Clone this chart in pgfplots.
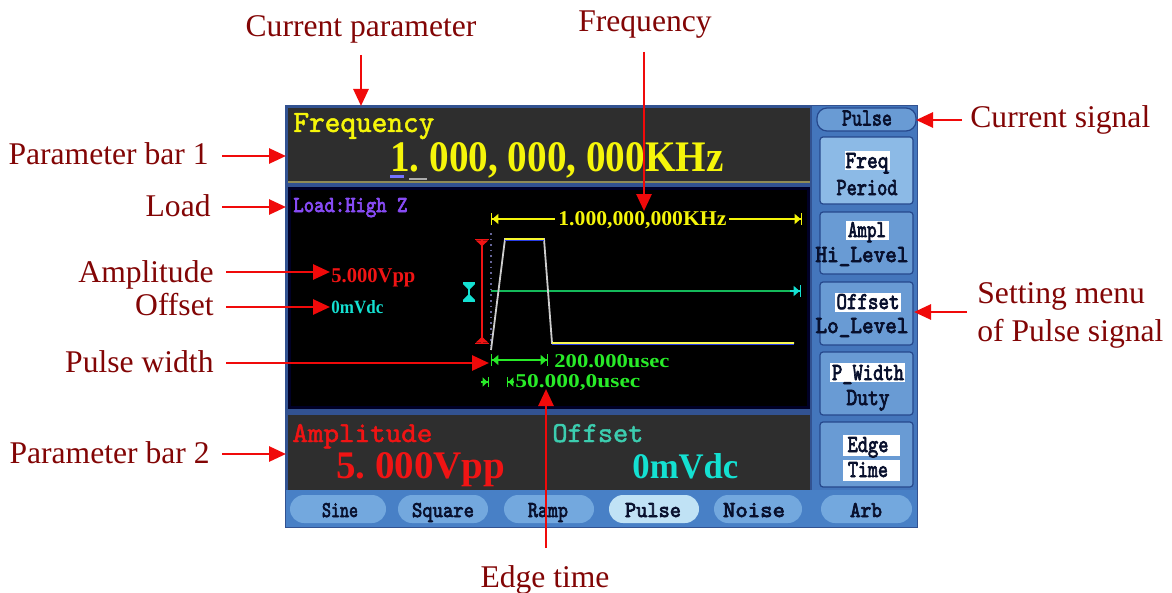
\documentclass[border=0pt]{standalone}
\usepackage{fontspec}
\setmainfont{Liberation Serif}
\newfontfamily\scrmono{lmmono10-regular.otf}[FakeBold=1.6]
\newfontfamily\btnmono{lmmono10-regular.otf}[FakeBold=3.2]
\usepackage{pgfplots}
\pgfplotsset{compat=1.18}
\usetikzlibrary{arrows.meta}

% one pixel of the reference = 0.5bp
\newlength\pxu \setlength\pxu{0.5bp}
\newcommand\fb[3]{\resizebox{#1\pxu}{#2\pxu}{#3}}

\definecolor{annot}{RGB}{130,5,5}
\definecolor{arr}{RGB}{240,10,10}
\definecolor{frame}{RGB}{50,82,145}
\definecolor{panel}{RGB}{68,118,188}
\definecolor{strip}{RGB}{72,128,198}
\definecolor{btn}{RGB}{105,155,212}
\definecolor{btnhi}{RGB}{140,186,230}
\definecolor{btnedge}{RGB}{38,72,140}
\definecolor{tab}{RGB}{115,168,222}
\definecolor{tabhi}{RGB}{192,226,245}
\definecolor{bardark}{RGB}{46,46,46}
\definecolor{yel}{RGB}{245,245,10}
\definecolor{scrred}{RGB}{240,20,20}
\definecolor{scrcyan}{RGB}{20,225,210}
\definecolor{scrteal}{RGB}{60,205,175}
\definecolor{scrgreen}{RGB}{40,235,40}
\definecolor{offgreen}{RGB}{20,185,90}
\definecolor{purp}{RGB}{135,75,245}
\definecolor{navy}{RGB}{8,16,45}
\definecolor{pgray}{RGB}{205,205,205}
\definecolor{pblue}{RGB}{40,60,230}

\tikzset{
  ann/.style={draw=arr, line width=1.4bp, -{Triangle[length=8.5bp,width=7.5bp]}},
  atxt/.style={text=annot, font=\fontsize{15.8bp}{18bp}\selectfont, inner sep=0},
  mk/.style={line width=0.7bp},
  bt/.style={anchor=base, inner sep=0, text=navy},
}

\begin{document}
\begin{tikzpicture}
\begin{axis}[
    name=ax,
    width=586bp, height=296.5bp, scale only axis,
    hide axis, clip=false,
    xmin=0, xmax=1172, ymin=0, ymax=593, y dir=reverse,
]
% ---- screen body
\fill[frame] (285,105) rectangle (918,528);
\fill[panel] (812,106) rectangle (917,490);
\fill[strip] (286,490) rectangle (917,527);
\fill[bardark] (288,108) rectangle (810,182);
\draw[gray!60!olive, line width=0.6bp] (288,182) -- (810,182);
\fill[black!85!blue] (288,187) rectangle (810,409);
\fill[black] (291,190) rectangle (807,406);
\fill[bardark] (288,415) rectangle (810,490);

% ---- right menu
\filldraw[fill=btn, draw=btnedge, line width=0.6bp, rounded corners=5bp] (817,108) rectangle (916,131);
\filldraw[fill=btnhi, draw=btnedge, line width=0.6bp, rounded corners=1.5bp] (820,137) rectangle (913,204);
\filldraw[fill=btn, draw=btnedge, line width=0.6bp, rounded corners=1.5bp] (820,212) rectangle (913,274);
\filldraw[fill=btn, draw=btnedge, line width=0.6bp, rounded corners=1.5bp] (820,282) rectangle (913,345);
\filldraw[fill=btn, draw=btnedge, line width=0.6bp, rounded corners=1.5bp] (820,352) rectangle (913,415);
\filldraw[fill=btn, draw=btnedge, line width=0.6bp, rounded corners=1.5bp] (820,422) rectangle (913,487);
\fill[white] (845,151) rectangle (890,170);
\fill[white] (846,221) rectangle (889,240);
\fill[white] (835,293) rectangle (901,312);
\fill[white] (830,363) rectangle (905,382);
\fill[white] (843,435) rectangle (900,456);
\fill[white] (843,460) rectangle (900,481);
\node[bt] at (867,125.5) {\fb{50}{15}{\btnmono Pulse}};
\node[bt] at (867,168) {\fb{43}{15}{\btnmono Freq}};
\node[bt] at (867,195) {\fb{61}{15}{\btnmono Period}};
\node[bt] at (867,237) {\fb{38}{15}{\btnmono Ampl}};
\node[bt] at (862,262) {\fb{93}{15}{\btnmono Hi\_Level}};
\node[bt] at (868,309) {\fb{63}{15}{\btnmono Offset}};
\node[bt] at (862,333) {\fb{93}{15}{\btnmono Lo\_Level}};
\node[bt] at (868,380) {\fb{72}{15}{\btnmono P\_Width}};
\node[bt] at (868,405) {\fb{43}{15}{\btnmono Duty}};
\node[bt] at (868,452) {\fb{41}{15}{\btnmono Edge}};
\node[bt] at (868,477) {\fb{40}{15}{\btnmono Time}};

% ---- bottom tabs
\fill[tab, rounded corners=7bp] (290,495) rectangle (386,523);
\fill[tab, rounded corners=7bp] (398,495) rectangle (488,523);
\fill[tab, rounded corners=7bp] (504,495) rectangle (594,523);
\fill[tabhi, rounded corners=7bp] (609,495) rectangle (699,523);
\fill[tab, rounded corners=7bp] (714,495) rectangle (802,523);
\fill[tab, rounded corners=7bp] (821,495) rectangle (912,523);
\node[bt] at (340,517) {\fb{36}{14}{\btnmono Sine}};
\node[bt] at (443,517) {\fb{62}{14}{\btnmono Square}};
\node[bt] at (548,517) {\fb{40}{14}{\btnmono Ramp}};
\node[bt] at (653,517) {\fb{56}{14}{\btnmono Pulse}};
\node[bt] at (754,517) {\fb{62}{14}{\btnmono Noise}};
\node[bt] at (866,517) {\fb{32}{14}{\btnmono Arb}};

% ---- parameter bar 1
\node[anchor=base west, inner sep=0, text=yel] at (293,132) {\fb{141}{19}{\scrmono Frequency}};
\node[anchor=base west, inner sep=0, text=yel] at (390,172) {\fb{333}{29}{\bfseries 1.\ 000,\ 000,\ 000KHz}};
\fill[blue!55!white] (390,175) rectangle (404,178);
\fill[gray!65] (409,178) rectangle (427,180);

% ---- parameter bar 2
\node[anchor=base west, inner sep=0, text=scrred] at (292,442) {\fb{140}{18}{\scrmono Amplitude}};
\node[anchor=base west, inner sep=0, text=scrred] at (336,478) {\fb{169}{26}{\bfseries 5.\ 000Vpp}};
\node[anchor=base west, inner sep=0, text=scrteal] at (552,442) {\fb{91}{18}{\scrmono Offset}};
\node[anchor=base west, inner sep=0, text=scrcyan] at (632,478) {\fb{106}{25}{\bfseries 0mVdc}};

% ---- waveform area texts
\node[anchor=base west, inner sep=0, text=purp] at (293,212) {\fb{114}{14}{\btnmono Load:High Z}};
\node[anchor=base west, inner sep=0, text=scrred] at (331,282) {\fb{84}{14}{\bfseries 5.000Vpp}};
\node[anchor=base west, inner sep=0, text=scrcyan] at (331,313) {\fb{52}{13}{\bfseries 0mVdc}};
\node[anchor=base west, inner sep=0, text=yel] at (558,225) {\fb{168}{14}{\bfseries 1.000,000,000KHz}};
\node[anchor=base west, inner sep=0, text=scrgreen] at (554,367) {\fb{115}{13}{\bfseries 200.000usec}};
\node[anchor=base west, inner sep=0, text=scrgreen] at (515,387) {\fb{125}{13}{\bfseries 50.000,0usec}};

% measurement markers
\draw[yel, mk, {Bar[width=6bp]Triangle[length=3bp,width=5bp]}-] (491,219) -- (555,219);
\draw[yel, mk, -{Triangle[length=3bp,width=5bp]Bar[width=6bp]}] (729,219) -- (802,219);
\draw[scrred, mk, {Bar[width=7bp]Triangle[reversed,length=3bp,width=6bp]}-{Triangle[reversed,length=3bp,width=6bp]Bar[width=7bp]}] (482,239) -- (482,344);
\draw[scrcyan, line width=1bp, {Bar[width=6bp]Triangle[reversed,length=3bp,width=6bp]}-{Triangle[reversed,length=3bp,width=6bp]Bar[width=6bp]}] (469,282) -- (469,302);
\draw[scrgreen, mk, {Bar[width=6bp]Triangle[length=3bp,width=5bp]}-{Triangle[length=3bp,width=5bp]Bar[width=6bp]}] (491,360) -- (548,360);
\draw[scrgreen, mk, -{Triangle[length=2.5bp,width=4.5bp]Bar[width=5bp]}] (481,382) -- (489,382);
\draw[scrgreen, mk, {Bar[width=5bp]Triangle[length=2.5bp,width=4.5bp]}-] (507,382) -- (514,382);
\draw[gray!80!blue, line width=0.8bp, dotted] (491,233) -- (491,350);

% ---- waveform
\addplot[offgreen, line width=0.8bp, mark=none] coordinates {(491,291) (797,291)};
\draw[scrcyan, mk, -{Triangle[length=3bp,width=5bp]Bar[width=6bp]}] (790,291) -- (801,291);
\addplot[pgray, line width=0.9bp, mark=none] coordinates {(491,350) (505,239) (544,239) (552,343) (794,343)};
\addplot[pblue, line width=0.6bp, mark=none] coordinates {(505,240.6) (544,240.6)};
\addplot[pblue, line width=0.6bp, mark=none] coordinates {(552,344.6) (794,344.6)};
\addplot[yel!85!white, line width=0.7bp, mark=none] coordinates {(505,238.8) (544,238.8)};
\addplot[yel!70!white, line width=0.7bp, mark=none] coordinates {(552,342.8) (794,342.8)};

% ---- annotations
\node[atxt, anchor=base] at (361,37) {Current parameter};
\node[atxt, anchor=base] at (645,32) {Frequency};
\node[atxt, anchor=base west] at (970,128) {Current signal};
\node[atxt, anchor=base west] at (977,303) {Setting menu};
\node[atxt, anchor=base west] at (977,341) {of Pulse signal};
\node[atxt, anchor=base east] at (209,165) {Parameter bar 1};
\node[atxt, anchor=base east] at (211,216) {Load};
\node[atxt, anchor=base east] at (214,282) {Amplitude};
\node[atxt, anchor=base east] at (214,315) {Offset};
\node[atxt, anchor=base east] at (214,372) {Pulse width};
\node[atxt, anchor=base east] at (210,463) {Parameter bar 2};
\node[atxt, anchor=base] at (545,587) {Edge time};

\draw[ann] (361,55) -- (361,106);
\draw[ann] (644,52) -- (644,211);
\draw[ann] (962,120) -- (916,120);
\draw[ann] (967,312) -- (914,312);
\draw[ann] (222,156) -- (286,156);
\draw[ann] (222,207) -- (286,207);
\draw[ann] (226,272) -- (330,272);
\draw[ann] (226,307) -- (330,307);
\draw[ann] (226,363) -- (489,363);
\draw[ann] (222,454) -- (286,454);
\draw[ann] (546,548) -- (546,389);
\end{axis}
\pgfresetboundingbox
\path (ax.south west) rectangle (ax.north east);
\end{tikzpicture}
\end{document}
